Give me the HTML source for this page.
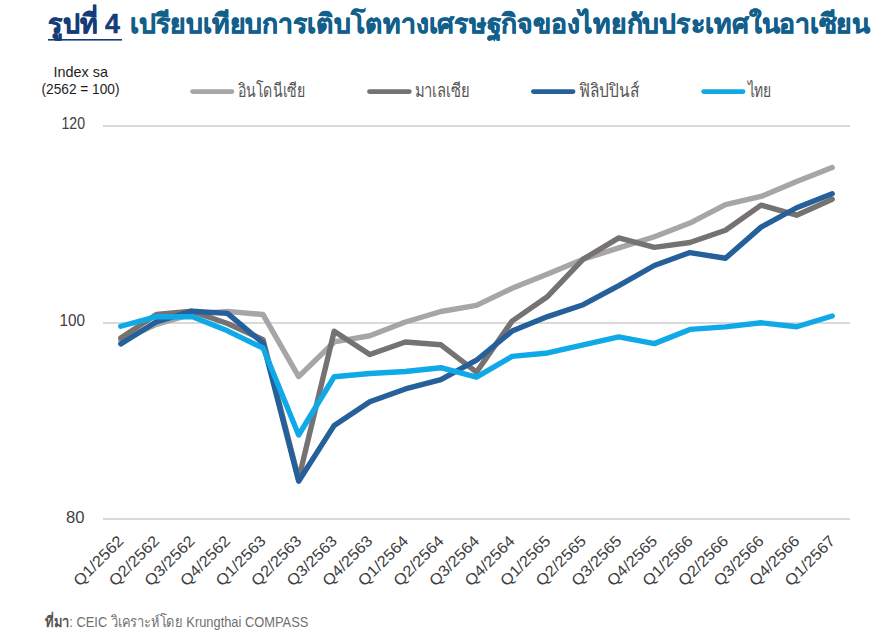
<!DOCTYPE html>
<html><head><meta charset="utf-8">
<style>
html,body{margin:0;padding:0;background:#fff;width:889px;height:641px;overflow:hidden}
svg{display:block}
text{font-family:"Liberation Sans",sans-serif}
.title{font-size:27px;font-weight:bold;stroke-width:0.5px;paint-order:stroke}
.leg{font-size:18.5px;fill:#555555}
.yl{font-size:16.5px;fill:#404040}
.xl{font-size:15.5px;fill:#404040;text-anchor:end}
.ylab{font-size:14.5px;fill:#1e1e1e}
.src{font-size:15px;fill:#707070}
</style></head><body>
<svg width="889" height="641" viewBox="0 0 889 641">
<text class="title" x="48" y="33.2" textLength="72" lengthAdjust="spacingAndGlyphs" fill="#153C78" stroke="#153C78">รูปที่ 4</text>
<rect x="48" y="39" width="74" height="1.6" fill="#153C78"/>
<text class="title" x="130" y="33.2" textLength="740" lengthAdjust="spacingAndGlyphs" fill="#135F8C" stroke="#135F8C">เปรียบเทียบการเติบโตทางเศรษฐกิจของไทยกับประเทศในอาเซียน</text>
<text class="ylab" x="53.5" y="76.6" textLength="54.5" lengthAdjust="spacingAndGlyphs">Index sa</text>
<text class="ylab" x="41.5" y="94.4" textLength="78" lengthAdjust="spacingAndGlyphs">(2562 = 100)</text>
<line x1="192.6" y1="91.6" x2="231.9" y2="91.6" stroke="#A6A6A6" stroke-width="4.8" stroke-linecap="round"/><text class="leg" x="237.5" y="96.7" textLength="68" lengthAdjust="spacingAndGlyphs">อินโดนีเซีย</text><line x1="369.5" y1="91.6" x2="409.3" y2="91.6" stroke="#777272" stroke-width="4.8" stroke-linecap="round"/><text class="leg" x="414.8" y="96.7" textLength="55" lengthAdjust="spacingAndGlyphs">มาเลเซีย</text><line x1="533.4" y1="91.6" x2="573" y2="91.6" stroke="#26609A" stroke-width="4.8" stroke-linecap="round"/><text class="leg" x="579" y="96.7" textLength="60" lengthAdjust="spacingAndGlyphs">ฟิลิปปินส์</text><line x1="703.7" y1="91.6" x2="743" y2="91.6" stroke="#10A9E8" stroke-width="4.8" stroke-linecap="round"/><text class="leg" x="747.7" y="96.7" textLength="24" lengthAdjust="spacingAndGlyphs">ไทย</text>
<rect x="103" y="125" width="747" height="2" fill="#D9D9D9"/>
<rect x="103" y="322" width="747" height="2" fill="#D9D9D9"/>
<rect x="103" y="518" width="747" height="2" fill="#D9D9D9"/>
<text class="yl" x="61.5" y="129" textLength="23.5" lengthAdjust="spacingAndGlyphs">120</text>
<text class="yl" x="59.5" y="326" textLength="25.5" lengthAdjust="spacingAndGlyphs">100</text>
<text class="yl" x="66" y="522.6" textLength="18.5" lengthAdjust="spacingAndGlyphs">80</text>
<polyline points="120.79,340.68 156.36,324.28 191.93,314.16 227.50,311.41 263.07,314.55 298.64,376.64 334.21,341.96 369.79,335.77 405.36,322.02 440.93,311.50 476.50,305.41 512.07,288.32 547.64,273.88 583.21,259.14 618.79,247.94 654.36,236.74 689.93,223.08 725.50,204.61 761.07,196.45 796.64,181.52 832.21,167.57" fill="none" stroke="#A6A6A6" stroke-width="5.4" stroke-linejoin="round" stroke-linecap="round"/>
<polyline points="120.79,337.93 156.36,314.55 191.93,311.21 227.50,323.49 263.07,339.70 298.64,479.22 334.21,331.25 369.79,354.54 405.36,341.96 440.93,344.81 476.50,372.12 512.07,321.13 547.64,296.47 583.21,259.14 618.79,237.92 654.36,247.35 689.93,242.53 725.50,230.25 761.07,205.10 796.64,215.22 832.21,199.21" fill="none" stroke="#777272" stroke-width="5.4" stroke-linejoin="round" stroke-linecap="round"/>
<polyline points="120.79,343.93 156.36,321.82 191.93,311.21 227.50,313.37 263.07,343.14 298.64,481.18 334.21,425.38 369.79,401.70 405.36,388.93 440.93,379.69 476.50,360.24 512.07,331.06 547.64,316.61 583.21,304.73 618.79,285.67 654.36,265.52 689.93,252.55 725.50,258.25 761.07,227.11 796.64,207.75 832.21,193.80" fill="none" stroke="#26609A" stroke-width="5.4" stroke-linejoin="round" stroke-linecap="round"/>
<polyline points="120.79,326.24 156.36,316.71 191.93,316.61 227.50,330.86 263.07,348.05 298.64,435.01 334.21,376.74 369.79,373.50 405.36,371.54 440.93,367.70 476.50,377.04 512.07,356.41 547.64,352.97 583.21,344.81 618.79,336.95 654.36,343.63 689.93,329.39 725.50,326.83 761.07,322.80 796.64,326.73 832.21,316.02" fill="none" stroke="#10A9E8" stroke-width="5.4" stroke-linejoin="round" stroke-linecap="round"/>
<text class="xl" transform="translate(124.59,542.0) rotate(-45)" textLength="63.5" lengthAdjust="spacingAndGlyphs">Q1/2562</text><text class="xl" transform="translate(160.16,542.0) rotate(-45)" textLength="63.5" lengthAdjust="spacingAndGlyphs">Q2/2562</text><text class="xl" transform="translate(195.73,542.0) rotate(-45)" textLength="63.5" lengthAdjust="spacingAndGlyphs">Q3/2562</text><text class="xl" transform="translate(231.30,542.0) rotate(-45)" textLength="63.5" lengthAdjust="spacingAndGlyphs">Q4/2562</text><text class="xl" transform="translate(266.87,542.0) rotate(-45)" textLength="63.5" lengthAdjust="spacingAndGlyphs">Q1/2563</text><text class="xl" transform="translate(302.44,542.0) rotate(-45)" textLength="63.5" lengthAdjust="spacingAndGlyphs">Q2/2563</text><text class="xl" transform="translate(338.01,542.0) rotate(-45)" textLength="63.5" lengthAdjust="spacingAndGlyphs">Q3/2563</text><text class="xl" transform="translate(373.59,542.0) rotate(-45)" textLength="63.5" lengthAdjust="spacingAndGlyphs">Q4/2563</text><text class="xl" transform="translate(409.16,542.0) rotate(-45)" textLength="63.5" lengthAdjust="spacingAndGlyphs">Q1/2564</text><text class="xl" transform="translate(444.73,542.0) rotate(-45)" textLength="63.5" lengthAdjust="spacingAndGlyphs">Q2/2564</text><text class="xl" transform="translate(480.30,542.0) rotate(-45)" textLength="63.5" lengthAdjust="spacingAndGlyphs">Q3/2564</text><text class="xl" transform="translate(515.87,542.0) rotate(-45)" textLength="63.5" lengthAdjust="spacingAndGlyphs">Q4/2564</text><text class="xl" transform="translate(551.44,542.0) rotate(-45)" textLength="63.5" lengthAdjust="spacingAndGlyphs">Q1/2565</text><text class="xl" transform="translate(587.01,542.0) rotate(-45)" textLength="63.5" lengthAdjust="spacingAndGlyphs">Q2/2565</text><text class="xl" transform="translate(622.59,542.0) rotate(-45)" textLength="63.5" lengthAdjust="spacingAndGlyphs">Q3/2565</text><text class="xl" transform="translate(658.16,542.0) rotate(-45)" textLength="63.5" lengthAdjust="spacingAndGlyphs">Q4/2565</text><text class="xl" transform="translate(693.73,542.0) rotate(-45)" textLength="63.5" lengthAdjust="spacingAndGlyphs">Q1/2566</text><text class="xl" transform="translate(729.30,542.0) rotate(-45)" textLength="63.5" lengthAdjust="spacingAndGlyphs">Q2/2566</text><text class="xl" transform="translate(764.87,542.0) rotate(-45)" textLength="63.5" lengthAdjust="spacingAndGlyphs">Q3/2566</text><text class="xl" transform="translate(800.44,542.0) rotate(-45)" textLength="63.5" lengthAdjust="spacingAndGlyphs">Q4/2566</text><text class="xl" transform="translate(836.01,542.0) rotate(-45)" textLength="63.5" lengthAdjust="spacingAndGlyphs">Q1/2567</text>
<text class="src" x="45.3" y="627.3" textLength="263" lengthAdjust="spacingAndGlyphs"><tspan font-weight="bold" fill="#555">ที่มา</tspan>: CEIC วิเคราะห์โดย Krungthai COMPASS</text>
</svg>
</body></html>
